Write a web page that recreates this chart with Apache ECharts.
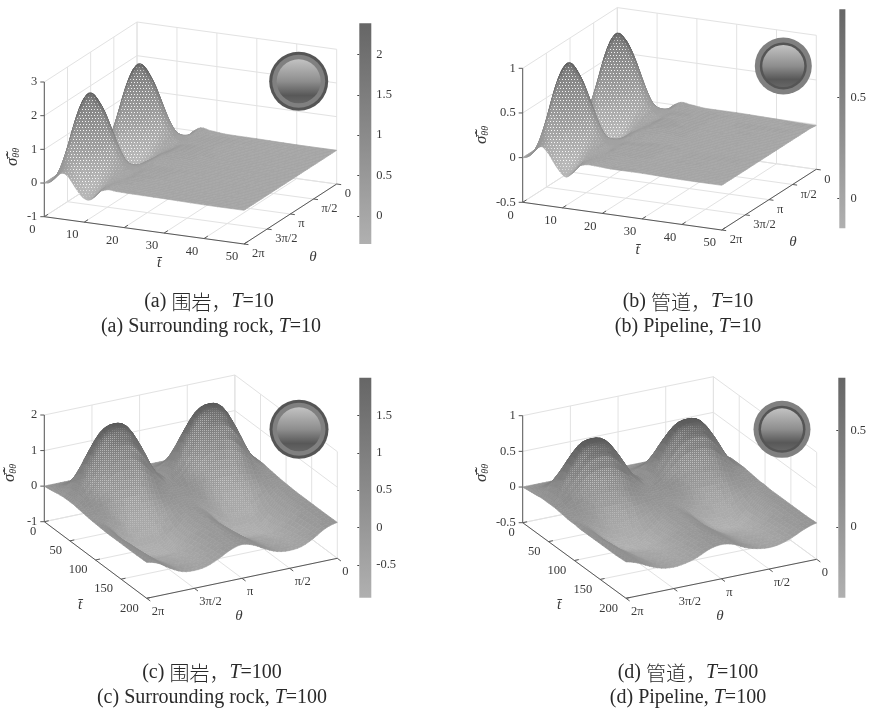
<!DOCTYPE html>
<html><head><meta charset="utf-8">
<style>html,body{margin:0;padding:0;background:#fff}#c{width:869px;height:714px;filter:blur(.4px)}</style>
<script src="https://cdn.jsdelivr.net/npm/echarts@6/dist/echarts.min.js"></script></head>
<body><div id="c"></div>
<script>
const thetaDeg=[0,22.5,45,67.5,90,112.5,135,157.5,180,202.5,225,247.5,270,292.5,315,337.5,360];
const thetaTicks=[0,90,180,270,360];
const thetaTickLabels=['0','π/2','π','3π/2','2π'];
const tShort=[0,1,2,3,4,5,6,7,8,9,10,11,12,13,14,16,18,22,30,40,50];
const tLong=[0,10,20,30,35,40,45,50,55,60,70,80,90,100,110,120,130,140,160,180,200];
const ticksShort=[0,10,20,30,40,50];
const ticksLong=[0,50,100,150,200];
const zTicksA=[-1,0,1,2,3], zTicksB=[-0.5,0,0.5,1], zTicksC=[-1,0,1,2], zTicksD=[-0.5,0,0.5,1];
const barTicksA=[0,0.5,1,1.5,2], barTicksB=[0,0.5], barTicksC=[-0.5,0,0.5,1,1.5], barTicksD=[0,0.5];
const stressA=[
[0,0,0,0,0,0,0,0,0,0,0,0,0,0,0,0,0],
[.02,.03,.06,.09,.1,.09,.06,.03,.02,.05,.14,.22,.25,.22,.14,.05,.02],
[.1,.1,.26,.4,.46,.4,.26,.1,.1,.22,.53,.83,.95,.83,.53,.22,.1],
[.22,.28,.64,1,1.15,1,.64,.28,.22,.42,.91,1.4,1.6,1.4,.91,.42,.22],
[.34,.47,1,1.52,1.74,1.52,1,.47,.34,.59,1.2,1.8,2.05,1.8,1.2,.59,.34],
[.36,.6,1.24,1.86,2.12,1.86,1.24,.6,.36,.64,1.32,2,2.28,2,1.32,.64,.36],
[.28,.62,1.31,2,2.29,2,1.31,.62,.28,.57,1.29,2,2.3,2,1.29,.57,.28],
[.12,.53,1.25,1.96,2.26,1.96,1.25,.53,.12,.42,1.14,1.85,2.15,1.85,1.14,.42,.12],
[-.05,.37,1.08,1.79,2.09,1.79,1.08,.37,-.05,.24,.95,1.66,1.95,1.66,.95,.24,-.05],
[-.2,.19,.88,1.58,1.86,1.58,.88,.19,-.2,.07,.73,1.38,1.65,1.38,.73,.07,-.2],
[-.3,.03,.66,1.29,1.55,1.29,.66,.03,-.3,-.07,.5,1.07,1.3,1.07,.5,-.07,-.3],
[-.33,-.09,.44,.98,1.2,.98,.44,-.09,-.33,-.14,.31,.76,.95,.76,.31,-.14,-.33],
[-.28,-.14,.27,.67,.85,.67,.27,-.14,-.28,-.15,.16,.47,.6,.47,.16,-.15,-.28],
[-.15,-.13,.14,.41,.53,.41,.14,-.13,-.15,-.08,.1,.28,.35,.28,.1,-.08,-.15],
[-.02,-.05,.1,.25,.31,.25,.1,-.05,-.02,.01,.09,.17,.2,.17,.09,.01,-.02],
[.12,.1,.09,.1,.12,.1,.09,.1,.1,.1,.09,.08,.08,.08,.09,.1,.06],
[.08,.08,.09,.1,.1,.13,.15,.15,.13,.08,.09,.1,.1,.1,.09,.08,.04],
[.03,.04,.06,.07,.08,.1,.12,.12,.09,.04,.06,.07,.08,.07,.06,.04,.03],
[.02,.02,.03,.03,.03,.03,.03,.02,.02,.02,.03,.03,.03,.03,.03,.02,.02],
[0,0,.01,.02,.02,.02,.01,0,0,0,.01,.02,.02,.02,.01,0,0],
[0,0,0,0,0,0,0,0,0,0,0,0,0,0,0,0,0]];
const stressB=[
[0,0,0,0,0,0,0,0,0,0,0,0,0,0,0,0,0],
[.01,.02,.04,.07,.08,.07,.04,.02,.01,.02,.05,.09,.1,.09,.05,.02,.01],
[.04,.06,.15,.22,.29,.22,.15,.06,.04,.09,.21,.33,.38,.33,.21,.09,.04],
[.09,.14,.31,.46,.55,.46,.31,.14,.09,.17,.36,.56,.64,.56,.36,.17,.09],
[.14,.21,.44,.66,.76,.66,.44,.21,.14,.24,.48,.72,.82,.72,.48,.24,.14],
[.15,.25,.52,.77,.88,.77,.52,.25,.15,.26,.53,.8,.91,.8,.53,.26,.15],
[.11,.24,.52,.8,.92,.8,.52,.24,.11,.23,.52,.8,.92,.8,.52,.23,.11],
[.05,.2,.48,.77,.88,.77,.48,.2,.05,.17,.46,.74,.86,.74,.46,.17,.05],
[-.02,.13,.41,.7,.81,.7,.41,.13,-.02,.1,.38,.66,.78,.66,.38,.1,-.02],
[-.08,.05,.32,.6,.7,.6,.32,.05,-.08,.03,.29,.55,.66,.55,.29,.03,-.08],
[-.13,-.02,.23,.48,.57,.48,.23,-.02,-.13,-.04,.2,.43,.52,.43,.2,-.04,-.13],
[-.15,-.06,.15,.35,.43,.35,.15,-.06,-.15,-.07,.12,.3,.38,.3,.12,-.07,-.15],
[-.12,-.07,.08,.23,.29,.23,.08,-.07,-.12,-.07,.06,.19,.24,.19,.06,-.07,-.12],
[-.07,-.05,.05,.14,.18,.14,.05,-.05,-.07,-.04,.04,.11,.14,.11,.04,-.04,-.07],
[-.01,-.01,.04,.08,.1,.08,.04,-.01,-.01,0,.04,.07,.08,.07,.04,0,-.01],
[.04,.03,.03,.03,.03,.03,.03,.03,.03,.03,.03,.03,.03,.03,.03,.03,.02],
[.03,.03,.03,.04,.04,.05,.05,.05,.04,.03,.03,.04,.04,.04,.03,.03,.02],
[.01,.01,.02,.03,.03,.04,.05,.05,.03,.01,.02,.03,.03,.03,.02,.01,.01],
[.01,.01,.01,.01,.01,.01,.01,.01,.01,.01,.01,.01,.01,.01,.01,.01,.01],
[0,0,0,.01,.01,.01,0,0,0,0,0,.01,.01,.01,0,0,0],
[-.01,0,0,0,0,0,0,0,0,0,0,0,0,0,0,0,0]];
const stressC=[
[0,0,0,0,0,0,0,0,0,0,0,0,0,0,0,0,0],
[.02,.06,.13,.19,.2,.19,.13,.06,.03,.06,.13,.19,.2,.19,.13,.06,.02],
[.05,.18,.44,.65,.7,.65,.46,.22,.1,.22,.46,.65,.7,.65,.44,.18,.05],
[.08,.34,.87,1.29,1.4,1.3,.9,.4,.15,.4,.9,1.3,1.4,1.29,.87,.34,.08],
[.09,.41,1.06,1.57,1.7,1.58,1.09,.48,.18,.48,1.09,1.58,1.7,1.57,1.06,.41,.09],
[.1,.46,1.17,1.74,1.88,1.75,1.21,.54,.2,.54,1.21,1.75,1.88,1.74,1.17,.46,.1],
[.1,.47,1.21,1.8,1.95,1.81,1.25,.55,.2,.55,1.25,1.81,1.95,1.8,1.21,.47,.1],
[.1,.46,1.17,1.74,1.88,1.75,1.21,.54,.2,.54,1.21,1.75,1.88,1.74,1.17,.46,.1],
[.1,.41,1.03,1.53,1.65,1.53,1.06,.47,.18,.47,1.06,1.53,1.65,1.53,1.03,.41,.1],
[.09,.34,.85,1.25,1.35,1.25,.87,.39,.15,.39,.87,1.25,1.35,1.25,.85,.34,.09],
[.07,.19,.42,.6,.65,.61,.43,.21,.1,.21,.43,.61,.65,.6,.42,.19,.07],
[.05,.05,.05,.05,.05,.05,.05,.05,.05,.05,.05,.05,.05,.05,.05,.05,.05],
[.03,-.07,-.26,-.41,-.45,-.41,-.27,-.09,0,-.09,-.27,-.41,-.45,-.41,-.26,-.07,.03],
[.02,-.14,-.46,-.72,-.78,-.72,-.49,-.2,-.05,-.2,-.49,-.72,-.78,-.72,-.46,-.14,.02],
[.01,-.17,-.54,-.83,-.9,-.83,-.57,-.24,-.08,-.24,-.57,-.83,-.9,-.83,-.54,-.17,.01],
[0,-.18,-.55,-.85,-.92,-.85,-.59,-.26,-.1,-.26,-.59,-.85,-.92,-.85,-.55,-.18,0],
[0,-.18,-.53,-.81,-.88,-.82,-.57,-.26,-.1,-.26,-.57,-.82,-.88,-.81,-.53,-.18,0],
[0,-.16,-.48,-.74,-.8,-.74,-.52,-.24,-.1,-.24,-.52,-.74,-.8,-.74,-.48,-.16,0],
[0,-.14,-.41,-.63,-.68,-.63,-.44,-.2,-.08,-.2,-.44,-.63,-.68,-.63,-.41,-.14,0],
[0,-.12,-.35,-.53,-.58,-.54,-.37,-.16,-.06,-.16,-.37,-.54,-.58,-.53,-.35,-.12,0],
[.01,-.09,-.3,-.46,-.5,-.46,-.32,-.14,-.05,-.14,-.32,-.46,-.5,-.46,-.3,-.09,.01]];
const stressD=[
[0,0,0,0,0,0,0,0,0,0,0,0,0,0,0,0,0],
[.01,.02,.05,.08,.08,.08,.05,.02,.01,.02,.05,.08,.08,.08,.05,.02,.01],
[.02,.07,.18,.26,.28,.26,.18,.09,.04,.09,.18,.26,.28,.26,.18,.07,.02],
[.03,.14,.35,.52,.56,.52,.36,.16,.06,.16,.36,.52,.56,.52,.35,.14,.03],
[.04,.16,.42,.63,.68,.63,.44,.19,.07,.19,.44,.63,.68,.63,.42,.16,.04],
[.04,.18,.47,.7,.75,.7,.48,.22,.08,.22,.48,.7,.75,.7,.47,.18,.04],
[.04,.19,.48,.72,.776,.72,.5,.22,.08,.22,.5,.72,.776,.72,.48,.19,.04],
[.04,.18,.47,.7,.75,.7,.48,.22,.08,.22,.48,.7,.75,.7,.47,.18,.04],
[.04,.16,.41,.61,.66,.61,.42,.19,.07,.19,.42,.61,.66,.61,.41,.16,.04],
[.04,.14,.34,.5,.54,.5,.35,.16,.06,.16,.35,.5,.54,.5,.34,.14,.04],
[.03,.08,.17,.24,.26,.24,.17,.08,.04,.08,.17,.24,.26,.24,.17,.08,.03],
[.02,.02,.02,.02,.02,.02,.02,.02,.02,.02,.02,.02,.02,.02,.02,.02,.02],
[.01,-.03,-.1,-.16,-.18,-.16,-.11,-.04,0,-.04,-.11,-.16,-.18,-.16,-.1,-.03,.01],
[.01,-.06,-.18,-.29,-.31,-.29,-.2,-.08,-.02,-.08,-.2,-.29,-.31,-.29,-.18,-.06,.01],
[0,-.07,-.22,-.33,-.36,-.33,-.23,-.1,-.03,-.1,-.23,-.33,-.36,-.33,-.22,-.07,0],
[0,-.07,-.22,-.34,-.369,-.34,-.24,-.1,-.04,-.1,-.24,-.34,-.369,-.34,-.22,-.07,0],
[0,-.07,-.21,-.32,-.35,-.33,-.23,-.1,-.04,-.1,-.23,-.33,-.35,-.32,-.21,-.07,0],
[0,-.06,-.19,-.29,-.32,-.3,-.21,-.1,-.04,-.1,-.21,-.3,-.32,-.29,-.19,-.06,0],
[0,-.06,-.16,-.25,-.27,-.25,-.18,-.08,-.03,-.08,-.18,-.25,-.27,-.25,-.16,-.06,0],
[0,-.05,-.14,-.21,-.23,-.22,-.15,-.06,-.02,-.06,-.15,-.22,-.23,-.21,-.14,-.05,0],
[.01,-.04,-.12,-.18,-.2,-.18,-.13,-.05,-.02,-.05,-.13,-.18,-.2,-.18,-.12,-.04,.01]];

const SERIF='"Liberation Serif","Noto Sans CJK SC",serif';
const looksSharp={k:.05,m:.22,lt:1,rt:1.6,dk:.22,dm:.9,tile:6};
const looksFine={k:.05,m:.16,lt:2.4,rt:3,dk:.18,dm:.35,tile:2};
const panels=[
Object.assign({ts:tShort,grid:stressA,tMax:50,tTicks:ticksShort,zTicks:zTicksA,zMin:-1,zMax:3,o:[44.3,216.7],tv:[199.7,27.3],sv:[92.7,-60],zh:134.7,
 bar:[359.3,23.3,12,220.7],barMin:-0.347,barMax:2.385,barTicks:barTicksA,tOff:[-12,13,'center'],thOff:[8,10],sig:[13,157],tL:[159,263],thL:[313,257],circ:[298.7,81.3],rings:['#555','#808080'],radii:[29.5,26.5,22]},looksSharp),
Object.assign({ts:tShort,grid:stressB,tMax:50,tTicks:ticksShort,zTicks:zTicksB,zMin:-.5,zMax:1,o:[522.7,202.3],tv:[199,27.7],sv:[94.6,-60.7],zh:134,
 bar:[839.3,9.3,12.4,219],barMin:-0.149,barMax:0.939,barTicks:barTicksB,tOff:[-12,13,'center'],thOff:[8,10],sig:[481.7,135],tL:[637.7,250],thL:[793,242],circ:[783.3,66],rings:['#808080','#555'],radii:[28.5,23.5,21]},looksSharp),
Object.assign({ts:tLong,grid:stressC,tMax:200,tTicks:ticksLong,zTicks:zTicksC,zMin:-1,zMax:2,o:[44.3,521.7],tv:[102.4,76.6],sv:[190.6,-40],zh:106.7,
 bar:[359.3,377.7,12,220],barMin:-0.94,barMax:2.005,barTicks:barTicksC,tOff:[-8,10,'right'],thOff:[5,13.5],sig:[10,473],tL:[80,605],thL:[239,616],circ:[299,429.3],rings:['#555','#808080'],radii:[29.5,26.5,22]},looksFine),
Object.assign({ts:tLong,grid:stressD,tMax:200,tTicks:ticksLong,zTicks:zTicksD,zMin:-.5,zMax:1,o:[522.7,522.7],tv:[103.3,75.6],sv:[190.7,-39],zh:107,
 bar:[838.3,377.7,12.7,220],barMin:-0.369,barMax:0.776,barTicks:barTicksD,tOff:[-8,10,'right'],thOff:[5,13.5],sig:[481.7,473],tL:[559,605],thL:[720,616],circ:[782,429.3],rings:['#808080','#555'],radii:[28.5,23.5,21]},looksFine)];
const captions=[
{x:209,y:302,text:'(a) {c|围岩，}{i|T}=10'},{x:211,y:327,text:'(a) Surrounding rock, {i|T}=10'},
{x:688,y:302,text:'(b) {c|管道，}{i|T}=10'},{x:688,y:327,text:'(b) Pipeline, {i|T}=10'},
{x:212,y:673,text:'(c) {c|围岩，}{i|T}=100'},{x:212,y:698,text:'(c) Surrounding rock, {i|T}=100'},
{x:688,y:673,text:'(d) {c|管道，}{i|T}=100'},{x:688,y:698,text:'(d) Pipeline, {i|T}=100'}];

function proj(p,t,deg,z){const a=t/p.tMax,s=1-deg/360,h=(z-p.zMin)/(p.zMax-p.zMin);
 return [p.o[0]+a*p.tv[0]+s*p.sv[0],p.o[1]+a*p.tv[1]+s*p.sv[1]-h*p.zh];}
const GRIDC='#e2e2e2',AXC='#595959',SUB=3;
function cr(a,b,c,d,u){return .5*(2*b+(c-a)*u+(2*a-5*b+4*c-d)*u*u+(3*b-a-3*c+d)*u*u*u);}
function refine(arr){const n=arr.length,out=[];for(let i=0;i<n-1;i++){for(let k=0;k<SUB;k++)out.push(cr(arr[Math.max(i-1,0)],arr[i],arr[i+1],arr[Math.min(i+2,n-1)],k/SUB));}out.push(arr[n-1]);return out;}
function buildFine(p){
 const rows=p.grid.map(refine);const cols=rows[0].length;const z=[];
 const byCol=[];for(let j=0;j<cols;j++)byCol.push(refine(rows.map(r=>r[j])));
 for(let i=0;i<byCol[0].length;i++)z.push(byCol.map(c=>c[i]));
 p.fT=p.ts.reduce((o,t,i)=>{if(i<p.ts.length-1)for(let k=0;k<SUB;k++)o.push(t+(p.ts[i+1]-t)*k/SUB);else o.push(t);return o;},[]);
 p.fD=thetaDeg.reduce((o,t,i)=>{if(i<thetaDeg.length-1)for(let k=0;k<SUB;k++)o.push(t+(thetaDeg[i+1]-t)*k/SUB);else o.push(t);return o;},[]);
 p.fZ=z;
}
function line(api,a,b,c,w){const A=api.coord(a),B=api.coord(b);return {type:'line',shape:{x1:A[0],y1:A[1],x2:B[0],y2:B[1]},style:{stroke:c,lineWidth:w||1},silent:true};}
function txt(api,pt,text,o){const P=api.coord(pt);return {type:'text',x:P[0],y:P[1],rotation:o.rot||0,style:Object.assign({text,fill:'#3a3a3a',fontFamily:SERIF,fontSize:o.size||12,fontStyle:o.style||'normal',align:o.align||'center',verticalAlign:'middle'},o.extra||{})};}
function frame(p,api){
 const els=[],tm=p.tMax,z0=p.zMin,z1=p.zMax;
 p.tTicks.forEach(t=>{els.push(line(api,proj(p,t,360,z0),proj(p,t,0,z0),GRIDC));els.push(line(api,proj(p,t,0,z0),proj(p,t,0,z1),GRIDC));});
 thetaTicks.forEach(d=>{els.push(line(api,proj(p,0,d,z0),proj(p,tm,d,z0),GRIDC));els.push(line(api,proj(p,0,d,z0),proj(p,0,d,z1),GRIDC));});
 p.zTicks.forEach(z=>{els.push(line(api,proj(p,0,360,z),proj(p,0,0,z),GRIDC));els.push(line(api,proj(p,0,0,z),proj(p,tm,0,z),GRIDC));});
 els.push(line(api,proj(p,0,360,z0),proj(p,0,360,z1),AXC));
 els.push(line(api,proj(p,0,360,z0),proj(p,tm,360,z0),AXC));
 els.push(line(api,proj(p,tm,360,z0),proj(p,tm,0,z0),AXC));
 p.zTicks.forEach(z=>{const q=proj(p,0,360,z);els.push(line(api,q,[q[0]-4,q[1]],AXC));els.push(txt(api,[q[0]-7,q[1]],String(z),{align:'right',size:12.5}));});
 const sl=Math.hypot(p.sv[0],p.sv[1]),tl=Math.hypot(p.tv[0],p.tv[1]);
 p.tTicks.forEach(t=>{const q=proj(p,t,360,z0);els.push(line(api,q,[q[0]+p.sv[0]/sl*4.5,q[1]+p.sv[1]/sl*4.5],AXC));
  els.push(txt(api,[q[0]+p.tOff[0],q[1]+p.tOff[1]],String(t),{align:p.tOff[2],size:12.5}));});
 thetaTicks.forEach((d,i)=>{const q=proj(p,tm,d,z0);els.push(line(api,q,[q[0]+p.tv[0]/tl*4.5,q[1]+p.tv[1]/tl*4.5],AXC));
  els.push(txt(api,[q[0]+p.thOff[0],q[1]+p.thOff[1]],thetaTickLabels[i],{align:'left',size:12.5}));});
 els.push(txt(api,p.tL,'t\u0304',{style:'italic',size:15}));
 els.push(txt(api,p.thL,'θ',{style:'italic',size:15}));
 els.push(txt(api,p.sig,'{s|σ\u0304\u0303}{b|θθ}',{rot:Math.PI/2,extra:{rich:{s:{fontFamily:SERIF,fontStyle:'italic',fontSize:17,fill:'#3a3a3a'},b:{fontFamily:SERIF,fontStyle:'italic',fontSize:10,fill:'#3a3a3a',verticalAlign:'bottom',padding:[6,0,0,0]}}}}));
 return {type:'group',children:els};
}
function surfaceQuads(p){const list=[];
 for(let i=0;i<p.fT.length-1;i++)for(let j=0;j<p.fD.length-1;j++){
  const a=(p.fT[i]+p.fT[i+1])/2/p.tMax,s=1-(p.fD[j]+p.fD[j+1])/720;
  list.push([i,j,p.o[1]+a*p.tv[1]+s*p.sv[1]]);}
 return list.sort((u,v)=>u[2]-v[2]);
}
const tileCache={};
function tileFor(size,g,d){
 const key=size+'_'+g+'_'+d;
 if(tileCache[key])return tileCache[key];
 const cv=document.createElement('canvas');cv.width=cv.height=size;const x=cv.getContext('2d');
 x.fillStyle='rgb('+g+','+g+','+g+')';x.fillRect(0,0,size,size);
 const w=Math.round(g+(255-g)*d/10);x.fillStyle='rgb('+w+','+w+','+w+')';
 (size===6?[[1,1],[4,1],[2,4],[5,4]]:[[0,0]]).forEach(q=>x.fillRect(q[0],q[1],1,1));
 return tileCache[key]={image:cv,repeat:'repeat'};
}
function quadFill(p,pts,zAvg,i,j){
 const n=Math.min(1,Math.max(0,(zAvg-p.barMin)/(p.barMax-p.barMin)));
 let g=176-n*84;
 const cross=(a,b)=>Math.abs(a[0]*b[1]-a[1]*b[0]);
 const d1=[pts[2][0]-pts[0][0],pts[2][1]-pts[0][1]],d2=[pts[3][0]-pts[1][0],pts[3][1]-pts[1][1]];
 const area=cross(d1,d2)/2;
 const dt=(p.fT[i+1]-p.fT[i])/p.tMax,ds=(p.fD[j+1]-p.fD[j])/360;
 const flat=cross([p.tv[0]*dt,p.tv[1]*dt],[p.sv[0]*ds,p.sv[1]*ds]);
 const r=area/flat;
 g=g+(240-g)*Math.max(0,Math.min(p.m,(r-p.lt)*p.k));
 if(r<1)g-=(1-r)*16;
 g=Math.round(g/3)*3;
 const d=Math.round(Math.max(0,Math.min(p.dm,(r-p.rt)*p.dk))*10);
 if(d>0)return tileFor(p.tile,g,d);
 return 'rgb('+g+','+g+','+g+')';
}
function barGradient(){return new echarts.graphic.LinearGradient(0,0,0,1,[{offset:0,color:'#666'},{offset:.5,color:'#8a8a8a'},{offset:1,color:'#b0b0b0'}]);}

const grids=[{left:0,top:0,width:869,height:714}],xAxes=[{type:'value',min:0,max:869,show:false}],yAxes=[{type:'value',min:0,max:714,inverse:true,show:false}],series=[];
panels.forEach((p,pi)=>{
 buildFine(p);
 series.push({type:'custom',coordinateSystem:'cartesian2d',xAxisIndex:0,yAxisIndex:0,silent:true,clip:false,z:1,data:[[pi]],renderItem:(_,api)=>frame(p,api)});
 series.push({type:'custom',coordinateSystem:'cartesian2d',xAxisIndex:0,yAxisIndex:0,silent:true,clip:false,z:2,progressive:0,data:surfaceQuads(p),renderItem:(params,api)=>{
  const i=api.value(0),j=api.value(1);
  const c=[[i,j],[i+1,j],[i+1,j+1],[i,j+1]];
  const raw=c.map(q=>proj(p,p.fT[q[0]],p.fD[q[1]],p.fZ[q[0]][q[1]]));
  const zAvg=c.reduce((s,q)=>s+p.fZ[q[0]][q[1]],0)/4;
  const f=quadFill(p,raw,zAvg,i,j);
  return {type:'polygon',shape:{points:raw.map(q=>api.coord(q))},style:{fill:f,stroke:f,lineWidth:.6}};
 }});
 series.push({type:'custom',coordinateSystem:'cartesian2d',xAxisIndex:0,yAxisIndex:0,silent:true,clip:false,z:3,data:[[pi]],renderItem:(_,api)=>{
  const C=api.coord(p.circ);
  const ring=(r,f)=>({type:'circle',shape:{cx:C[0],cy:C[1],r},style:{fill:f}});
  return {type:'group',children:[ring(p.radii[0],p.rings[0]),ring(p.radii[1],p.rings[1]),
   ring(p.radii[2],new echarts.graphic.LinearGradient(0,0,0,1,[{offset:0,color:'#c2c2c2'},{offset:.5,color:'#8e8e8e'},{offset:.82,color:'#585858'},{offset:1,color:'#666'}]))]};
 }});
 const k=pi+1;
 grids.push({left:p.bar[0],top:p.bar[1],width:p.bar[2],height:p.bar[3]});
 xAxes.push({type:'value',gridIndex:k,min:0,max:1,show:false});
 yAxes.push({type:'value',gridIndex:k,position:'right',min:p.barMin,max:p.barMax,splitLine:{show:false},axisLine:{show:false},
  axisTick:{show:true,inside:true,length:2,lineStyle:{color:'#444'},customValues:p.barTicks},
  axisLabel:{show:true,margin:5,color:'#3a3a3a',fontFamily:SERIF,fontSize:12.5,customValues:p.barTicks,showMinLabel:true,showMaxLabel:true}});
 series.push({type:'custom',coordinateSystem:'cartesian2d',xAxisIndex:k,yAxisIndex:k,silent:true,z:1,data:[[p.barMin,p.barMax]],renderItem:(_,api)=>{
  const A=api.coord([0,api.value(1)]),B=api.coord([1,api.value(0)]);
  return {type:'rect',shape:{x:A[0],y:A[1],width:B[0]-A[0],height:B[1]-A[1]},style:{fill:barGradient()}};
 }});
});
const chart=echarts.init(document.getElementById('c'),null,{renderer:'canvas',width:869,height:714});
chart.setOption({animation:false,backgroundColor:'#fff',grid:grids,xAxis:xAxes,yAxis:yAxes,series,
 graphic:captions.map(c=>({type:'text',x:c.x,y:c.y,silent:true,style:{text:c.text,fill:'#2a2a2a',fontFamily:SERIF,fontSize:20,align:'center',verticalAlign:'middle',
  rich:{i:{fontFamily:SERIF,fontStyle:'italic',fontSize:20,fill:'#2a2a2a'},c:{fontFamily:'"Noto Sans CJK SC"',fontWeight:300,fontSize:20,fill:'#2a2a2a'}}}}))});
</script></body></html>
